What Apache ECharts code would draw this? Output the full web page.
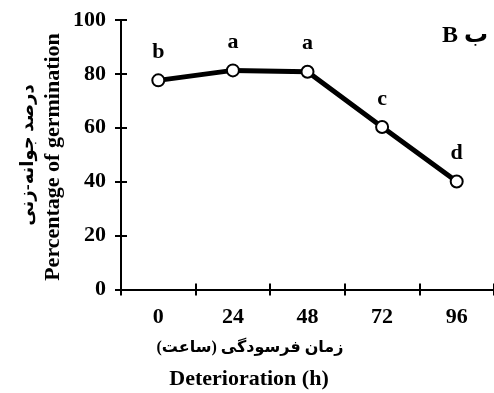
<!DOCTYPE html>
<html><head><meta charset="utf-8">
<script src="https://cdn.jsdelivr.net/npm/echarts@6/dist/echarts.min.js"></script>
<style>html,body{margin:0;padding:0;background:#fff}#c{width:494px;height:393px}</style>
</head><body><div id="c"></div>
<script>
var categories = ['0', '24', '48', '72', '96'];
var germination = [77.6, 81.3, 80.8, 60.3, 40.1];
var letters = ['b', 'a', 'a', 'c', 'd'];
var yTicks = [0, 20, 40, 60, 80, 100];

var FONT = '"Liberation Serif", "Times New Roman", "DejaVu Serif", serif';
var FA = '"Liberation Serif", "DejaVu Sans", "Noto Sans", sans-serif';
var chart = echarts.init(document.getElementById('c'));
var grid = {left: 121, right: -4, top: 20, height: 269.5};
chart.setOption({
  animation: false,
  backgroundColor: '#fff',
  grid: grid,
  xAxis: [{
    type: 'category', data: categories, boundaryGap: true,
    axisLine: {lineStyle: {color: '#000', width: 2}},
    axisTick: {show: true, length: 6, interval: 0, lineStyle: {color: '#000', width: 2}},
    axisLabel: {color: '#000', fontFamily: FONT, fontWeight: 'bold', fontSize: 22, margin: 17}
  }, {
    type: 'category', data: categories, boundaryGap: true, position: 'bottom',
    axisLine: {show: false},
    axisTick: {show: true, inside: true, length: 6, interval: 0, lineStyle: {color: '#000', width: 2}},
    axisLabel: {show: false}
  }],
  yAxis: [{
    type: 'value', min: 0, max: 100, interval: 20,
    splitLine: {show: false},
    axisLine: {show: true, lineStyle: {color: '#000', width: 2}},
    axisTick: {show: true, length: 6, lineStyle: {color: '#000', width: 2}},
    axisLabel: {color: '#000', fontFamily: FONT, fontWeight: 'bold', fontSize: 22, margin: 15,
      formatter: function (v) { return yTicks.indexOf(v) >= 0 ? String(v) : ''; }}
  }, {
    type: 'value', min: 0, max: 100, interval: 20, position: 'left',
    splitLine: {show: false},
    axisLine: {show: false},
    axisTick: {show: true, inside: true, length: 6, lineStyle: {color: '#000', width: 2}},
    axisLabel: {show: false}
  }],
  series: [{
    type: 'line', data: germination,
    symbol: 'circle', symbolSize: 12,
    lineStyle: {color: '#000', width: 5},
    itemStyle: {color: '#fff', borderColor: '#000', borderWidth: 2},
    label: {show: true, position: 'top', distance: 10, color: '#000', fontFamily: FONT,
      fontWeight: 'bold', fontSize: 22,
      formatter: function (p) { return letters[p.dataIndex]; }},
    z: 5
  }],
  graphic: [
    {type: 'text', x: 488, y: 36, style: {text: 'B ب', fill: '#000', font: 'bold 24px ' + FA, align: 'right', verticalAlign: 'middle'}},
    {type: 'text', x: 28, y: 155, rotation: Math.PI / 2, style: {text: 'درصد جوانه-زنی', fill: '#000', font: 'bold 18px ' + FA, align: 'center', verticalAlign: 'middle'}},
    {type: 'text', x: 53, y: 157, rotation: Math.PI / 2, style: {text: 'Percentage of germination', fill: '#000', font: 'bold 22px ' + FONT, align: 'center', verticalAlign: 'middle'}},
    {type: 'text', x: 250, y: 348, style: {text: 'زمان فرسودگی (ساعت)', fill: '#000', font: 'bold 16px ' + FA, align: 'center', verticalAlign: 'middle'}},
    {type: 'text', x: 249, y: 379, style: {text: 'Deterioration (h)', fill: '#000', font: 'bold 22px ' + FONT, align: 'center', verticalAlign: 'middle'}}
  ]
});
</script></body></html>
